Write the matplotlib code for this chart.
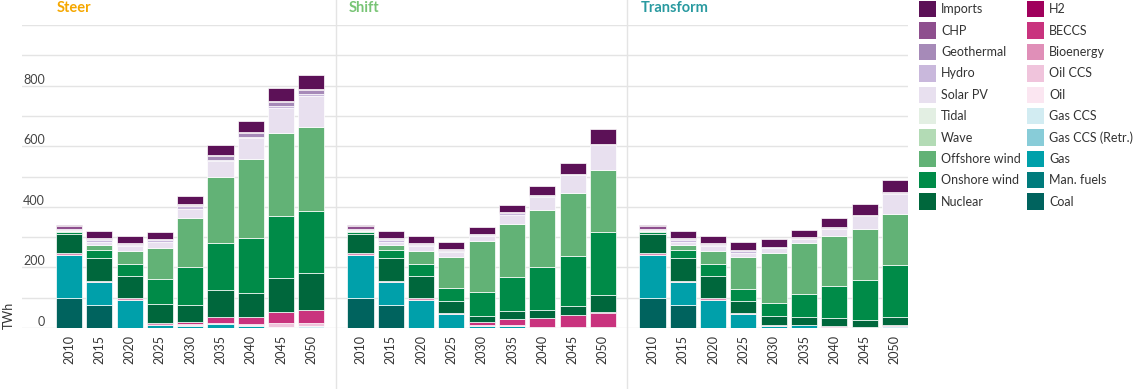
import numpy as np
import matplotlib.pyplot as plt
from matplotlib.patches import Patch
from matplotlib.lines import Line2D
import matplotlib.transforms as mtransforms

plt.rcParams['font.family'] = ['Lato', 'DejaVu Sans']

years = ["2010", "2015", "2020", "2025", "2030", "2035", "2040", "2045", "2050"]

# generation sources, bottom of the stack first
sources = ["Coal", "Man. fuels", "Gas", "Gas CCS (Retr.)", "Gas CCS", "Oil", "Oil CCS",
           "Bioenergy", "BECCS", "H2", "Nuclear", "Onshore wind", "Offshore wind",
           "Wave", "Tidal", "Solar PV", "Hydro", "Geothermal", "CHP", "Imports"]
colors = ["#00635e", "#007b7c", "#00a0aa", "#88ccd8", "#d2ecf2", "#fbe6f1", "#f0c4dc",
          "#e08fb8", "#c9337e", "#a0005c", "#00673c", "#008b48", "#62b276",
          "#b3dbb5", "#e3efe3", "#e8e0ef", "#c9b8dc", "#a68ab8", "#8e4f8e", "#5c1157"]

# TWh per source (rows in the order of `sources`), columns are years
steer = [
    [99, 77, 0, 0, 0, 0, 0, 0, 0],
    [0, 0, 0, 0, 0, 0, 0, 0, 0],
    [143, 74, 91, 10, 8, 14, 8, 3, 0],
    [0, 0, 0, 0, 1, 2, 1, 1, 1],
    [0, 0, 0, 0, 0, 0, 0, 0, 4],
    [0, 0, 0, 0, 0, 0, 0, 0, 0],
    [0, 0, 0, 0, 0, 0, 1, 11, 11],
    [5, 5, 8, 6, 4, 2, 2, 2, 1],
    [0, 0, 0, 0, 7, 18, 24, 36, 42],
    [0, 0, 0, 0, 0, 0, 1, 1, 2],
    [63, 75, 71, 62, 57, 91, 78, 112, 122],
    [7, 25, 42, 84, 123, 154, 183, 202, 203],
    [3, 19, 43, 103, 163, 216, 259, 275, 277],
    [0, 0, 0, 0, 0, 0, 0, 0, 0],
    [0, 0, 0, 0, 0, 0, 0, 0, 0],
    [2, 9, 15, 18, 31, 53, 69, 84, 103],
    [3, 5, 5, 7, 8, 6, 6, 6, 5],
    [3, 4, 3, 3, 3, 11, 11, 14, 14],
    [7, 3, 2, 1, 3, 4, 4, 3, 4],
    [5, 25, 22, 23, 27, 34, 37, 43, 47],
]
shift = [
    [99, 77, 0, 0, 0, 0, 0, 0, 0],
    [0, 0, 0, 0, 0, 0, 0, 0, 0],
    [143, 74, 91, 46, 8, 6, 0, 0, 0],
    [0, 0, 0, 0, 0, 2, 3, 2, 0],
    [0, 0, 0, 0, 0, 0, 0, 0, 4],
    [0, 0, 0, 0, 0, 0, 0, 0, 0],
    [0, 0, 0, 0, 0, 0, 0, 0, 0],
    [5, 5, 8, 5, 2, 1, 0, 0, 0],
    [0, 0, 0, 0, 9, 21, 29, 41, 45],
    [0, 0, 0, 0, 0, 0, 0, 0, 3],
    [63, 75, 71, 37, 22, 25, 26, 29, 58],
    [7, 25, 42, 43, 79, 112, 142, 167, 206],
    [3, 19, 43, 104, 166, 177, 188, 205, 205],
    [0, 0, 0, 0, 0, 0, 0, 0, 0],
    [0, 0, 0, 0, 0, 0, 0, 0, 0],
    [2, 9, 15, 16, 17, 30, 43, 62, 82],
    [3, 5, 5, 4, 4, 4, 4, 1, 2],
    [3, 4, 3, 3, 2, 3, 3, 1, 2],
    [7, 3, 2, 3, 1, 1, 2, 1, 1],
    [5, 25, 22, 24, 22, 25, 30, 37, 49],
]
transform = [
    [99, 77, 0, 0, 0, 0, 0, 0, 0],
    [0, 0, 0, 0, 0, 0, 0, 0, 0],
    [143, 74, 91, 46, 8, 9, 3, 0, 0],
    [0, 0, 0, 0, 0, 2, 1, 2, 0],
    [0, 0, 0, 0, 0, 0, 0, 0, 7],
    [0, 0, 0, 0, 0, 0, 0, 0, 0],
    [0, 0, 0, 0, 0, 0, 0, 0, 0],
    [5, 5, 8, 5, 3, 0, 0, 0, 0],
    [0, 0, 0, 0, 0, 0, 3, 0, 3],
    [0, 0, 0, 0, 0, 0, 0, 0, 0],
    [63, 75, 71, 37, 27, 24, 25, 25, 26],
    [7, 25, 42, 41, 45, 77, 106, 133, 173],
    [3, 19, 43, 104, 165, 169, 165, 167, 167],
    [0, 0, 0, 0, 0, 0, 0, 0, 0],
    [0, 0, 0, 0, 0, 0, 0, 0, 0],
    [2, 9, 15, 15, 16, 14, 24, 42, 67],
    [3, 5, 5, 5, 2, 2, 2, 2, 2],
    [3, 4, 3, 3, 1, 1, 2, 2, 2],
    [7, 3, 2, 3, 1, 1, 1, 1, 1],
    [5, 25, 22, 25, 26, 26, 30, 36, 42],
]

scenarios = ["Steer", "Shift", "Transform"]
title_colors = ["#f5a700", "#78c475", "#2a9aa0"]
panel_data = [steer, shift, transform]

W, H = 1134, 389
fig = plt.figure(figsize=(W / 100, H / 100), dpi=100)

# panel extents in pixels: axes left, axes right, first bar centre
panels = [(22, 336, 69), (336, 627, 360.5), (627, 908, 652.5)]
step = 30.3
grid_c = "#e4e4e4"

x = np.arange(len(years))
axes = []
for (left, right, c0), name, tcol, data in zip(panels, scenarios, title_colors, panel_data):
    ax = fig.add_axes([left / W, 61 / H, (right - left) / W, 303 / H])
    x0 = -(c0 - left) / step
    ax.set_xlim(x0, x0 + (right - left) / step)
    ax.set_ylim(0, 1000)
    bottom = np.zeros(len(years))
    for row, col in zip(data, colors):
        vals = np.array(row, dtype=float)
        m = vals > 0
        if m.any():
            ax.bar(x[m], vals[m], bottom=bottom[m], width=0.86, color=col,
                   edgecolor="white", linewidth=0.5, zorder=3)
        bottom += vals
    ax.set_yticks(np.arange(0, 1001, 100))
    ax.grid(axis="y", color=grid_c, linewidth=1, zorder=0)
    ax.tick_params(axis="y", length=0, labelleft=False)
    ax.set_xticks(x)
    ax.set_xticklabels(years, rotation=90, fontsize=9, color="#333333")
    ax.tick_params(axis="x", length=0, pad=5)
    for s in ax.spines.values():
        s.set_visible(False)
    fig.text((c0 - 12) / W, 1 - 7.5 / H, name, color=tcol, fontsize=10.5,
             fontweight="bold", va="center", ha="left")
    axes.append(ax)

# y tick labels sit just above their gridlines
trans = mtransforms.blended_transform_factory(axes[0].transAxes, axes[0].transData)
for v in range(0, 801, 200):
    axes[0].text((45 - 22) / 314, v + 20, str(v), transform=trans, ha="right",
                 va="center", fontsize=9, color="#444444")

fig.text(9 / W, 1 - 315 / H, "TWh", rotation=90, ha="center", va="center",
         fontsize=9, color="#333333")

for xs in (336, 627):
    fig.add_artist(Line2D([xs / W, xs / W], [0, 1], color=grid_c, linewidth=1))

handles = [Patch(facecolor=c, label=s) for s, c in zip(sources, colors)]
col1 = handles[::-1][:10]
col2 = handles[::-1][10:]
for hs, xpos in ((col1, 919), (col2, 1027)):
    fig.legend(handles=hs, loc="upper left", bbox_to_anchor=(xpos / W, 1.0 - 1 / H),
               frameon=False, fontsize=9, handlelength=1.36, handleheight=1.64,
               handletextpad=0.4, labelspacing=0.4, borderpad=0, borderaxespad=0,
               labelcolor="#333333")

fig.savefig("out.png", dpi=100)
